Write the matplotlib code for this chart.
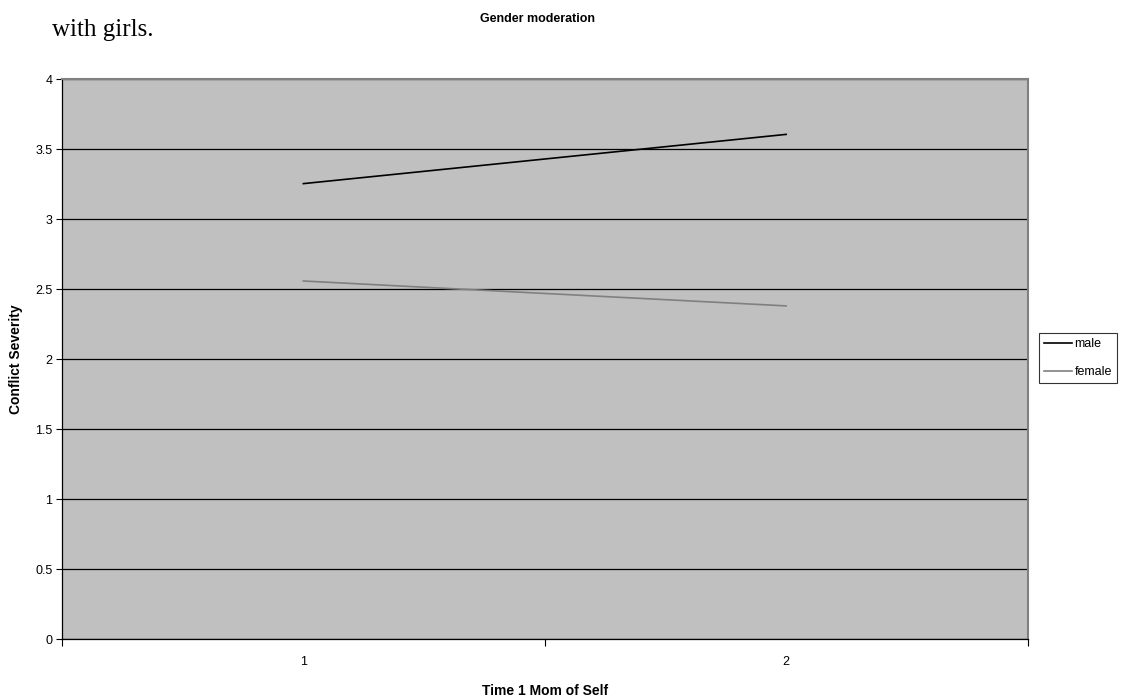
import numpy as np
import matplotlib.pyplot as plt

# --- data ---
categories = ['1', '2']
male = [3.255, 3.607]
female = [2.559, 2.381]
y_ticks = [0, 0.5, 1, 1.5, 2, 2.5, 3, 3.5, 4]

plt.rcParams['font.family'] = ['Liberation Sans', 'DejaVu Sans']

W, H = 1125, 700
fig = plt.figure(figsize=(W / 100, H / 100), dpi=100)
ax = fig.add_axes([62 / W, 1 - 639 / H, (1027.5 - 62) / W, (639 - 79.4) / H])
ax.set_facecolor('#C0C0C0')

x = np.arange(1, len(categories) + 1)
ax.plot(x, male, color='black', linewidth=1.2, label='male')
ax.plot(x, female, color='#808080', linewidth=1.2, label='female')

ax.set_xlim(0.5, len(categories) + 0.5)
ax.set_ylim(0, 4)
ax.set_yticks(y_ticks)
ax.set_yticklabels([f'{v:g}' for v in y_ticks], fontsize=9)
ax.yaxis.grid(True, color='black', linewidth=0.9)
ax.set_axisbelow(True)

# category labels sit between the tick marks
ax.set_xticks(np.arange(0.5, len(categories) + 1, 1))
ax.set_xticklabels([])
ax.set_xticks(x, minor=True)
ax.set_xticklabels(categories, minor=True, fontsize=9)
ax.tick_params(axis='x', which='major', direction='out', length=5, width=0.8)
ax.tick_params(axis='x', which='minor', length=0, pad=12)
ax.tick_params(axis='y', direction='out', length=4, width=0.8, pad=3)

for side in ['top', 'right']:
    ax.spines[side].set_color('#808080')
    ax.spines[side].set_linewidth(1.5)
for side in ['left', 'bottom']:
    ax.spines[side].set_color('black')
    ax.spines[side].set_linewidth(0.9)

ax.set_xlabel('Time 1 Mom of Self', fontsize=10, fontweight='bold')
ax.xaxis.set_label_coords(0.5, (639 - 684) / (639 - 79.4))
ax.set_ylabel('Conflict Severity', fontsize=10, fontweight='bold')
ax.yaxis.set_label_coords((23 - 62) / (1027.5 - 62), (639 - 359) / (639 - 79.4))

fig.text(538 / W, 1 - 19 / H, 'Gender moderation', fontsize=9, fontweight='bold',
         ha='center', va='center')
fig.text(52 / W, 1 - 36 / H, 'with girls.', fontsize=18, family='Liberation Serif',
         ha='left', va='baseline')

leg = fig.legend(loc='center left', bbox_to_anchor=(1039 / W, 1 - 358 / H),
                 fontsize=9, frameon=True, fancybox=False, edgecolor='black',
                 handlelength=2.2, handletextpad=0.25, borderpad=0.4,
                 labelspacing=1.3, borderaxespad=0)
leg.get_frame().set_linewidth(0.8)

fig.savefig('out.png', dpi=100)
